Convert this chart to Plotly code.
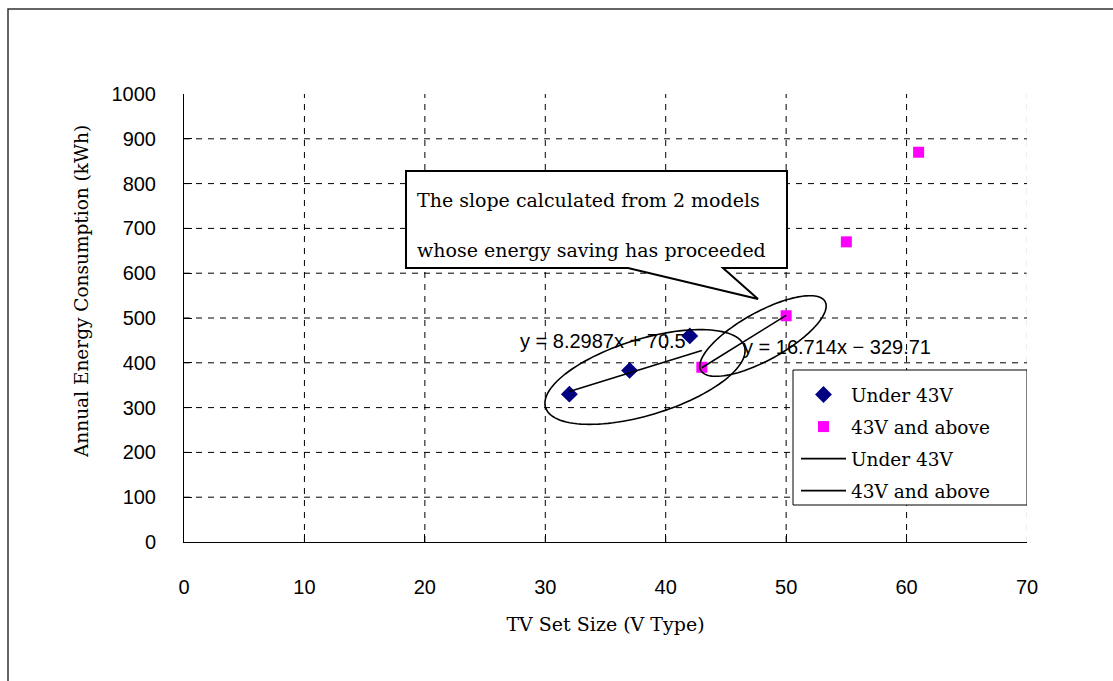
import numpy as np
import plotly.graph_objects as go

# ---------------- data ----------------
under_x = [32, 37, 42]
under_y = [330, 383, 460]
above_x = [43, 50, 55, 61]
above_y = [390, 505, 670, 870]

# trend lines (equations as printed on chart)
fit_under = (8.2987, 70.5)        # slope, intercept
fit_under_x = [32, 43]
fit_above = (16.714, -329.71)
fit_above_x = [43, 50]

x_ticks = [0, 10, 20, 30, 40, 50, 60, 70]
y_ticks = [0, 100, 200, 300, 400, 500, 600, 700, 800, 900, 1000]

eq_under = "y = 8.2987x + 70.5"
eq_above = "y = 16.714x − 329.71"
callout_lines = ["The slope calculated from 2 models",
                 "whose energy saving has proceeded"]
x_title = "TV Set Size (V Type)"
y_title = "Annual Energy Consumption (kWh)"

# ---------------- layout geometry ----------------
W, H = 1113, 681
ML, MR, MT, MB = 184, 86, 94, 139
PW = W - ML - MR
PH = H - MT - MB
XR = (0, 70)
YR = (0, 1000)
pxx = PW / (XR[1] - XR[0])   # pixels per x unit
pxy = PH / (YR[1] - YR[0])   # pixels per y unit

SERIF = "DejaVu Serif"
SANS = "Liberation Sans"

fig = go.Figure()

fig.add_trace(go.Scatter(x=under_x, y=under_y, mode="markers", name="Under 43V",
                         legendgroup="g1",
                         marker=dict(symbol="diamond", color="#000080", size=13)))
fig.add_trace(go.Scatter(x=above_x, y=above_y, mode="markers", name="43V and above",
                         legendgroup="g2",
                         marker=dict(symbol="square", color="#FF00FF", size=11)))

fx1 = np.array(fit_under_x, dtype=float)
fig.add_trace(go.Scatter(x=fx1, y=fit_under[0] * fx1 + fit_under[1], mode="lines",
                         name="Under 43V", legendgroup="g3",
                         line=dict(color="black", width=1.6)))
fx2 = np.array(fit_above_x, dtype=float)
fig.add_trace(go.Scatter(x=fx2, y=fit_above[0] * fx2 + fit_above[1], mode="lines",
                         name="43V and above", legendgroup="g4",
                         line=dict(color="black", width=1.6)))


def px2x(px):
    return (px - ML) / pxx


def py2y(py):
    return (H - MB - py) / pxy


shapes = []
# gridlines
for v in y_ticks[1:-1]:
    shapes.append(dict(type="line", xref="x", yref="y", x0=XR[0], x1=XR[1], y0=v, y1=v,
                       line=dict(color="black", width=1, dash="6px,6px"), layer="below"))
for v in x_ticks[1:-1]:
    shapes.append(dict(type="line", xref="x", yref="y", x0=v, x1=v, y0=YR[0], y1=YR[1],
                       line=dict(color="black", width=1, dash="6px,6px"), layer="below"))
shapes.append(dict(type="line", xref="x", yref="y", x0=XR[1], x1=XR[1], y0=YR[0], y1=YR[1],
                   line=dict(color="#dddddd", width=1, dash="6px,6px"), layer="below"))

# outer border
shapes.append(dict(type="rect", xref="paper", yref="paper",
                   x0=(8 - ML) / PW, x1=(W + 20 - ML) / PW,
                   y0=-(H + 20 - MT - PH) / PH, y1=(H - 9 - MB) / PH,
                   line=dict(color="#333333", width=1.5), fillcolor="rgba(0,0,0,0)"))

# legend frame
shapes.append(dict(type="rect", xref="x", yref="y",
                   x0=px2x(793), x1=px2x(1027), y0=py2y(505), y1=py2y(370),
                   line=dict(color="black", width=1), fillcolor="white", layer="above"))


def ellipse_path(cx, cy, a_px, b_px, ang_deg, n=120):
    t = np.linspace(0, 2 * np.pi, n)
    th = np.deg2rad(ang_deg)
    dx = a_px * np.cos(t) * np.cos(th) - b_px * np.sin(t) * np.sin(th)
    dy = a_px * np.cos(t) * np.sin(th) + b_px * np.sin(t) * np.cos(th)
    xs = cx + dx / pxx
    ys = cy + dy / pxy
    p = "M " + " L ".join(f"{x:.4f},{y:.4f}" for x, y in zip(xs, ys)) + " Z"
    return p


shapes.append(dict(type="path", xref="x", yref="y",
                   path=ellipse_path(px2x(645), py2y(377), 104, 38, 17),
                   line=dict(color="black", width=1.6), layer="above"))
shapes.append(dict(type="path", xref="x", yref="y",
                   path=ellipse_path(px2x(763), py2y(336), 71, 24, 29),
                   line=dict(color="black", width=1.6), layer="above"))

# callout box with tail
bx0, bx1, by0, by1 = px2x(406), px2x(787), py2y(268), py2y(171)
t1, tip, t2 = (px2x(628), py2y(268)), (px2x(758), py2y(299)), (px2x(723), py2y(268))
callout = (f"M {bx0},{by0} L {t1[0]},{t1[1]} L {tip[0]},{tip[1]} L {t2[0]},{t2[1]} "
           f"L {bx1},{by0} L {bx1},{by1} L {bx0},{by1} Z")
shapes.append(dict(type="path", xref="x", yref="y", path=callout,
                   fillcolor="white", line=dict(color="black", width=2), layer="above"))

annotations = [
    dict(x=px2x(415), y=py2y(200), xref="x", yref="y", text=callout_lines[0],
         showarrow=False, xanchor="left", yanchor="middle",
         font=dict(family=SERIF, size=19, color="black")),
    dict(x=px2x(415), y=py2y(250), xref="x", yref="y", text=callout_lines[1],
         showarrow=False, xanchor="left", yanchor="middle",
         font=dict(family=SERIF, size=19, color="black")),
    dict(x=px2x(518), y=py2y(341), xref="x", yref="y", text=eq_under,
         showarrow=False, xanchor="left", yanchor="middle",
         font=dict(family=SANS, size=20, color="black")),
    dict(x=px2x(741), y=py2y(347), xref="x", yref="y", text=eq_above,
         showarrow=False, xanchor="left", yanchor="middle",
         font=dict(family=SANS, size=20, color="black")),
    dict(x=(81 - ML) / PW, y=(H - MB - 292) / PH, xref="paper", yref="paper",
         text=y_title, textangle=-90, showarrow=False,
         xanchor="center", yanchor="middle",
         font=dict(family=SERIF, size=18.5, color="black")),
]

fig.update_layout(
    width=W, height=H,
    margin=dict(l=ML, r=MR, t=MT, b=MB, pad=0),
    paper_bgcolor="white", plot_bgcolor="white",
    shapes=shapes, annotations=annotations,
    showlegend=True,
    legend=dict(x=(796 - ML) / PW, y=(H - MB - 376) / PH, xanchor="left", yanchor="top",
                borderwidth=0, bgcolor="rgba(0,0,0,0)",
                font=dict(family=SERIF, size=18.5, color="black"),
                traceorder="grouped", tracegroupgap=5, itemwidth=45),
    xaxis=dict(range=list(XR), tickvals=x_ticks, showgrid=False, zeroline=False,
               showline=True, linecolor="black", linewidth=1,
               ticks="inside", ticklen=8, tickcolor="black",
               tickfont=dict(family=SANS, size=20, color="black"),
               ticklabelstandoff=27,
               title=dict(text=x_title, standoff=20,
                          font=dict(family=SERIF, size=19, color="black"))),
    yaxis=dict(range=list(YR), tickvals=y_ticks, showgrid=False, zeroline=False,
               showline=True, linecolor="black", linewidth=1,
               ticks="inside", ticklen=8, tickcolor="black",
               tickfont=dict(family=SANS, size=20, color="black"),
               ticklabelstandoff=23),
)

fig.write_html("out.html")
